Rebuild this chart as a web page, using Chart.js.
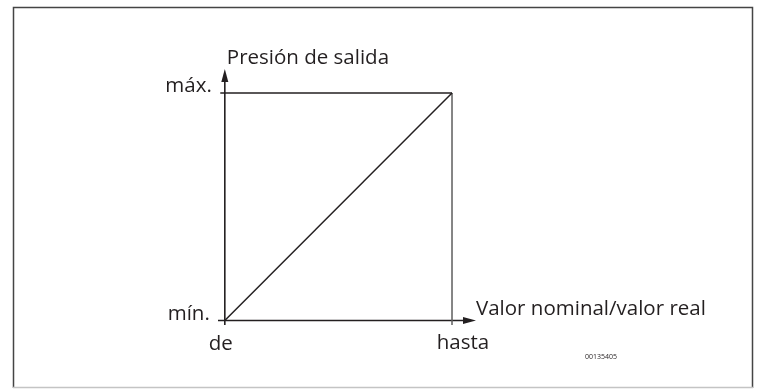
<!DOCTYPE html>
<html>
<head>
<meta charset="utf-8">
<script src="https://cdn.jsdelivr.net/npm/chart.js@4"></script>
<style>
    html, body { margin: 0; padding: 0; background: #fff; }
    #wrap { position: relative; width: 757px; height: 390px; }
</style>
</head>
<body>
<div id="wrap"><canvas id="diagram"></canvas></div>
<script>
// de -> hasta on the input axis, mín. -> máx. on the output axis
const inputLabels = ['de', 'hasta'];
const outputLabels = ['mín.', 'máx.'];
const inputValues = [0, 1];
const outputValues = [0, 1];

const axisTitleX = 'Valor nominal/valor real';
const axisTitleY = 'Presión de salida';
const figureCode = '00135405';

const ink = '#231f20';
const xMin = -0.03, xMax = 1.11;
const yMin = -0.02, yMax = 1.11;
const tick = 0.02;

const xLo = Math.min(...inputValues), xHi = Math.max(...inputValues);
const yLo = Math.min(...outputValues), yHi = Math.max(...outputValues);

const lineSet = (pts, color, width) => ({
    data: pts,
    showLine: true,
    borderColor: color,
    borderWidth: width,
    pointRadius: 0,
    fill: false
});

const data = {
    datasets: [
        // characteristic line
        lineSet(inputValues.map((x, i) => ({ x: x, y: outputValues[i] })), ink, 1.5),
        // máx. guide
        lineSet([{ x: xLo - tick, y: yHi }, { x: xHi, y: yHi }], ink, 1.5),
        // hasta guide
        lineSet([{ x: xHi, y: yLo - tick }, { x: xHi, y: yHi }], '#5e5e5e', 1.5),
        // x axis
        lineSet([{ x: xMin, y: yLo }, { x: 1.06, y: yLo }], ink, 1.6),
        // y axis
        lineSet([{ x: xLo, y: yMin }, { x: xLo, y: 1.06 }], ink, 1.6)
    ]
};

const figurePlugin = {
    id: 'figure',
    afterDraw(chart) {
        const ctx = chart.ctx;
        const sx = chart.scales.x, sy = chart.scales.y;
        const x0 = sx.getPixelForValue(xLo), x1 = sx.getPixelForValue(xHi);
        const y0 = sy.getPixelForValue(yLo), y1 = sy.getPixelForValue(yHi);
        const tipX = sx.getPixelForValue(xMax) - 1;
        const tipY = sy.getPixelForValue(yMax) + 1;

        ctx.save();
        // arrow heads
        ctx.fillStyle = ink;
        ctx.beginPath();
        ctx.moveTo(tipX, y0);
        ctx.lineTo(tipX - 13, y0 - 3.5);
        ctx.lineTo(tipX - 13, y0 + 3.5);
        ctx.closePath();
        ctx.fill();
        ctx.beginPath();
        ctx.moveTo(x0, tipY);
        ctx.lineTo(x0 - 3.5, tipY + 13);
        ctx.lineTo(x0 + 3.5, tipY + 13);
        ctx.closePath();
        ctx.fill();

        // labels
        ctx.font = '20.5px "Open Sans"';
        ctx.textBaseline = 'alphabetic';
        ctx.textAlign = 'left';
        ctx.fillText(axisTitleY, x0 + 2, tipY - 5);
        ctx.fillText(axisTitleX, tipX, y0 - 5);
        ctx.textAlign = 'right';
        ctx.fillText(outputLabels[1], x0 - 13, y1 - 1);
        ctx.fillText(outputLabels[0], x0 - 15, y0);
        ctx.textAlign = 'center';
        ctx.fillText(inputLabels[0], x0 - 4, y0 + 30);
        ctx.fillText(inputLabels[1], x1 + 11, y0 + 29);

        ctx.font = '7px "Open Sans"';
        ctx.textAlign = 'left';
        ctx.textBaseline = 'middle';
        ctx.fillText(figureCode, 585, 357);

        // frame
        ctx.lineWidth = 1.5;
        ctx.strokeStyle = '#444';
        ctx.beginPath();
        ctx.moveTo(13.5, 388);
        ctx.lineTo(13.5, 7.5);
        ctx.lineTo(752.5, 7.5);
        ctx.lineTo(752.5, 388);
        ctx.stroke();
        ctx.strokeStyle = '#c4c4c4';
        ctx.beginPath();
        ctx.moveTo(13, 387.5);
        ctx.lineTo(753, 387.5);
        ctx.stroke();
        ctx.restore();
    }
};

const config = {
    type: 'scatter',
    data: data,
    options: {
        responsive: true,
        maintainAspectRatio: false,
        animation: false,
        layout: {
            padding: { left: 218, right: 280, top: 68, bottom: 65 }
        },
        plugins: {
            legend: { display: false },
            tooltip: { enabled: false }
        },
        scales: {
            x: { type: 'linear', min: xMin, max: xMax, display: false },
            y: { type: 'linear', min: yMin, max: yMax, display: false }
        }
    },
    plugins: [figurePlugin]
};

var diagram = new Chart(document.getElementById('diagram'), config);
</script>
</body>
</html>
